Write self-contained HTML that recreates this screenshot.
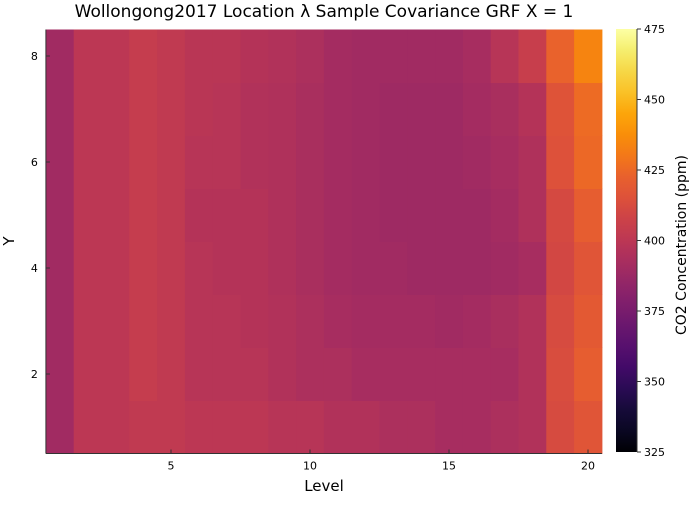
<!DOCTYPE html>
<html><head><meta charset="utf-8"><style>
body{margin:0;background:#fff}
svg text{font-family:"DejaVu Sans","Liberation Sans",sans-serif}
</style></head><body>
<svg id="c" width="700" height="500" xmlns="http://www.w3.org/2000/svg">
<defs><linearGradient id="cb" x1="0" y1="1" x2="0" y2="0"></linearGradient></defs>
<text x="324" y="17" font-size="17" text-anchor="middle">Wollongong2017 Location λ Sample Covariance GRF X = 1</text>
<g id="cells"></g>
<g id="axes"></g>
<text x="324" y="491" font-size="15" text-anchor="middle">Level</text>
<text transform="translate(14,241) rotate(-90)" font-size="15" text-anchor="middle">Y</text>
<rect x="616" y="29" width="21" height="423" fill="url(#cb)"/>
<g id="cbticks"></g>
<text transform="translate(686,245) rotate(-90)" font-size="14" text-anchor="middle">CO2 Concentration (ppm)</text>
</svg>
<script>
const xTicks=[5,10,15,20];
const yTicks=[2,4,6,8];
const cbTicks=[325,350,375,400,425,450,475];
const zMin=325, zMax=475;
// rows from y=1 to y=8, 20 columns (Level 1..20)
const row1=[390,400,400,402,402,400,400,400,398,398,396,396,394,394,392,392,394,396,412,417];
const row2=[390,400,400,404,402,398,398,398,396,394,394,392,392,392,392,392,392,396,413,421];
const row3=[390,400,400,404,402,398,398,397,396,394,392,391,391,391,390,391,393,396,412,419];
const row4=[390,400,400,404,402,398,397,397,395,393,391,390,390,389,389,389,390,392,410,417];
const row5=[390,400,400,404,402,397,397,397,395,393,391,390,389,389,389,389,391,395,411,421];
const row6=[390,400,400,404,402,398,398,396,395,393,391,390,389,389,389,390,392,395,415,425];
const row7=[390,400,400,404,402,399,398,396,395,393,391,390,389,389,389,391,393,397,416,426];
const row8=[390,400,400,404,402,399,399,397,396,394,391,390,390,390,390,392,398,405,423,434];
const rows=[row1,row2,row3,row4,row5,row6,row7,row8];
const stops=[[0,"#000004"],[0.05,"#0a0722"],[0.1,"#160b39"],[0.15,"#2a0b54"],[0.2,"#420a68"],[0.25,"#57106e"],[0.3,"#6a176e"],[0.35,"#7f1e6c"],[0.4,"#932667"],[0.45,"#a82e5f"],[0.5,"#bc3754"],[0.55,"#cc4248"],[0.6,"#dd513a"],[0.65,"#e8602d"],[0.7,"#f37819"],[0.75,"#f98e09"],[0.8,"#fca50a"],[0.85,"#fac127"],[0.9,"#f6d746"],[0.95,"#f5ee6e"],[1,"#fcffa4"]];
function hx(h){return [1,3,5].map(i=>parseInt(h.substr(i,2),16));}
function cmap(v){let t=Math.max(0,Math.min(1,(v-zMin)/(zMax-zMin)));
 for(let i=0;i<stops.length-1;i++){if(t<=stops[i+1][0]){const a=hx(stops[i][1]),b=hx(stops[i+1][1]);const f=(t-stops[i][0])/(stops[i+1][0]-stops[i][0]);
 return "rgb("+a.map((c,k)=>Math.round(c+(b[k]-c)*f)).join(",")+")";}}return stops[stops.length-1][1];}
const X=v=>171+(v-5)*27.8, Y=v=>374-(v-2)*53;
const ns="http://www.w3.org/2000/svg";
function mk(t,a,p){const e=document.createElementNS(ns,t);for(const k in a)e.setAttribute(k,a[k]);p.appendChild(e);return e;}
const cells=document.getElementById('cells');
rows.forEach((r,j)=>r.forEach((v,i)=>{const lv=i+1,yy=j+1;
 const e=mk('rect',{x:X(lv-0.5),y:Y(yy+0.5),width:X(lv+0.5)-X(lv-0.5)+0.5,height:Y(yy-0.5)-Y(yy+0.5)+0.5,fill:cmap(v)},cells);
 
 }));
const ax=document.getElementById('axes');
const x0=X(0.5),x1=X(20.5),y0=Y(0.5),y1=Y(8.5);
mk('line',{x1:x0,y1:y0,x2:x1,y2:y0,stroke:"#333","stroke-width":1},ax);
mk('line',{x1:x0,y1:y0,x2:x0,y2:y1,stroke:"#333","stroke-width":1},ax);
xTicks.forEach(t=>{mk('line',{x1:X(t),y1:y0,x2:X(t),y2:y0-4,stroke:"#333"},ax);
 const e=mk('text',{x:X(t),y:y0+16,"font-size":11,"text-anchor":"middle"},ax);e.textContent=t;
 
 });
yTicks.forEach(t=>{mk('line',{x1:x0,y1:Y(t),x2:x0+4,y2:Y(t),stroke:"#333"},ax);
 const e=mk('text',{x:x0-8,y:Y(t)+4,"font-size":11,"text-anchor":"end"},ax);e.textContent=t;
 
 });
const g=document.getElementById('cb');
for(let i=0;i<=40;i++){mk('stop',{offset:(i/40),"stop-color":cmap(zMin+(zMax-zMin)*i/40)},g);}
const cbt=document.getElementById('cbticks');
cbTicks.forEach(t=>{const y=452-(t-zMin)/(zMax-zMin)*423;
 mk('line',{x1:637,y1:y,x2:641,y2:y,stroke:"#333"},cbt);
 const e=mk('text',{x:644,y:y+4,"font-size":11},cbt);e.textContent=t;
 
 });
mk('line',{x1:637,y1:29,x2:637,y2:452,stroke:"#333"},cbt);
</script>
</body></html>
